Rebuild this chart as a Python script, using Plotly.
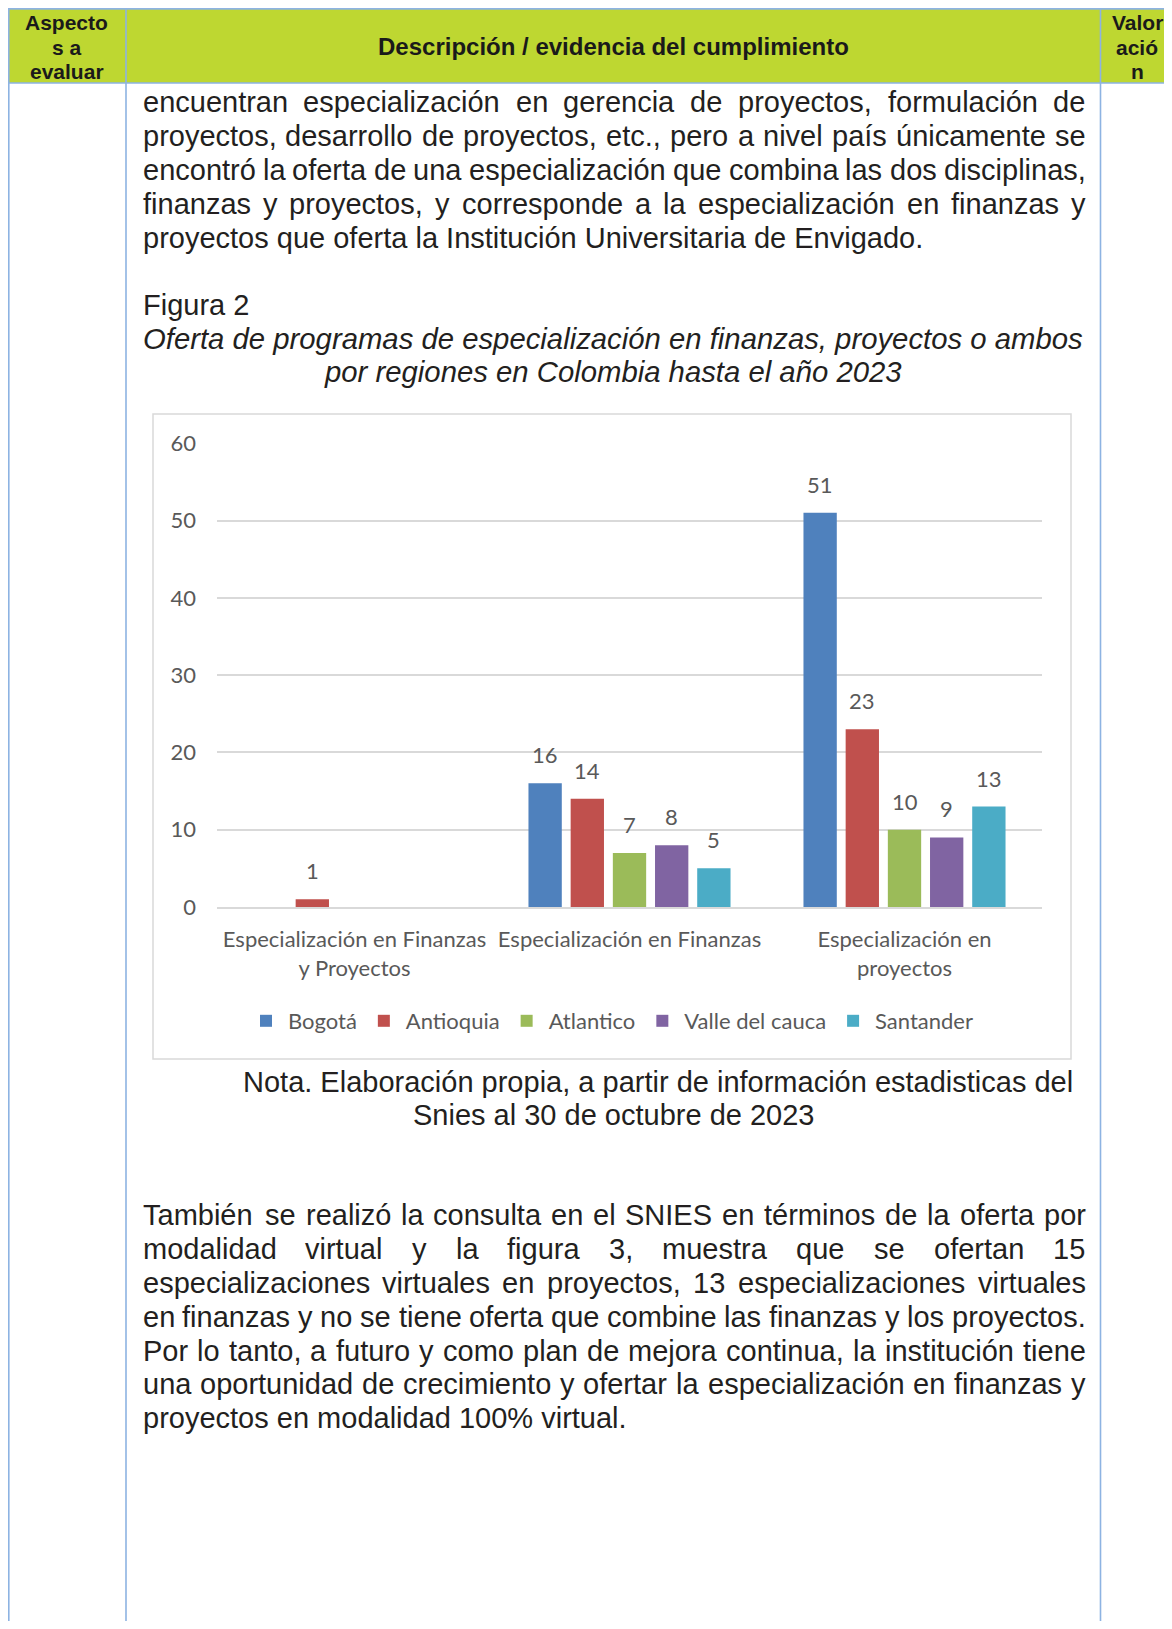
import plotly.graph_objects as go

# ---------------- data ----------------
categories = ["Especialización en Finanzas y Proyectos",
              "Especialización en Finanzas",
              "Especialización en proyectos"]
tick_labels = ["Especialización en Finanzas<br>y Proyectos",
               "Especialización en Finanzas",
               "Especialización en<br>proyectos"]
regions = ["Bogotá", "Antioquia", "Atlantico", "Valle del cauca", "Santander"]
bogota = [0, 16, 51]
antioquia = [1, 14, 23]
atlantico = [0, 7, 10]
valle = [0, 8, 9]
santander = [0, 5, 13]
y_ticks = [0, 10, 20, 30, 40, 50, 60]

header_left = ["Aspecto", "s a", "evaluar"]
header_mid = "Descripción / evidencia del cumplimiento"
header_right = ["Valor", "ació", "n"]
para1 = [
    "encuentran especialización en gerencia de proyectos, formulación de",
    "proyectos, desarrollo de proyectos, etc., pero a nivel país únicamente se",
    "encontró la oferta de una especialización que combina las dos disciplinas,",
    "finanzas y proyectos, y corresponde a la especialización en finanzas y",
    "proyectos que oferta la Institución Universitaria de Envigado.",
]
fig_label = "Figura 2"
fig_title = ["Oferta de programas de especialización en finanzas, proyectos o ambos",
             "por regiones en Colombia hasta el año 2023"]
nota = ["Nota. Elaboración propia, a partir de información estadisticas del",
        "Snies al 30 de octubre de 2023"]
para2 = [
    "También se realizó la consulta en el SNIES en términos de la oferta por",
    "modalidad virtual y la figura 3, muestra que se ofertan 15",
    "especializaciones virtuales en proyectos, 13 especializaciones virtuales",
    "en finanzas y no se tiene oferta que combine las finanzas y los proyectos.",
    "Por lo tanto, a futuro y como plan de mejora continua, la institución tiene",
    "una oportunidad de crecimiento y ofertar la especialización en finanzas y",
    "proyectos en modalidad 100% virtual.",
]

# ---------------- page geometry / styles ----------------
W, H = 1172, 1629            # page (window) size
OX, OY = 8, 8                # default page margin around the figure div
W_FIG, H_FIG = W - 2 * OX, H - 2 * OY   # keep the page free of scrollbars
DOC_FONT = "Liberation Sans, Arial, sans-serif"
CH_FONT = "Lato, Carlito, Calibri, sans-serif"
TXT = "#231F20"
HDR_TXT = "#1A1A1A"
GREY = "#595959"
BORDER = "#8DB3E2"
LIME = "#BED731"
GRID = "#D9D9D9"
bar_colors = ["#4F81BD", "#C0504D", "#9BBB59", "#8064A2", "#4BACC6"]
BODY = 29
CH = 22
BARGAP = 0.233
BARGROUPGAP = 0.21
X0, X1 = 217, 1042           # plot area (page px)
YB, YT = 907, 443.3

# Arial / Liberation Sans advance widths (1/1000 em)
AW = {" ": 278, ",": 278, ".": 278, "/": 278, "%": 889, "-": 333, ":": 278,
      "A": 667, "B": 667, "C": 722, "D": 722, "E": 667, "F": 611, "G": 778, "H": 722,
      "I": 278, "J": 500, "K": 667, "L": 556, "M": 833, "N": 722, "O": 778, "P": 667,
      "Q": 778, "R": 722, "S": 667, "T": 611, "U": 722, "V": 667, "W": 944, "X": 667,
      "Y": 667, "Z": 611,
      "a": 556, "b": 556, "c": 500, "d": 556, "e": 556, "f": 278, "g": 556, "h": 556,
      "i": 222, "j": 222, "k": 500, "l": 222, "m": 833, "n": 556, "o": 556, "p": 556,
      "q": 556, "r": 333, "s": 500, "t": 278, "u": 556, "v": 500, "w": 722, "x": 500,
      "y": 500, "z": 500, "á": 556, "é": 556, "í": 278, "ó": 556, "ú": 556, "ñ": 556}


def text_w(s, size):
    return sum(AW.get(ch, 556) for ch in s) * size / 1000.0


def px(x):
    return (x - OX) / W_FIG


def py(y):
    return 1 - (y - OY) / H_FIG


fig = go.Figure()

# ---------------- chart ----------------
series = [bogota, antioquia, atlantico, valle, santander]
for name, vals, col in zip(regions, series, bar_colors):
    fig.add_trace(go.Bar(x=categories, y=vals, name=name,
                         marker=dict(color=col, line=dict(width=0)),
                         hoverinfo="skip"))

slot = (X1 - X0) / len(categories) * (1 - BARGAP) / len(regions)
for i, vals in enumerate(series):
    for c, v in zip(categories, vals):
        if v > 0:
            fig.add_annotation(x=c, y=v, xref="x", yref="y", text=str(v),
                               showarrow=False, xanchor="center", yanchor="bottom",
                               xshift=(i - (len(regions) - 1) / 2) * slot, yshift=14,
                               borderpad=0,
                               font=dict(family=CH_FONT, size=CH, color=GREY))


def add_text(text, x, baseline, size, anchor="left", color=TXT):
    fig.add_annotation(text=text, x=px(x), y=py(baseline - 0.3465 * size),
                       xref="paper", yref="paper", xanchor=anchor, yanchor="middle",
                       showarrow=False, borderpad=0,
                       font=dict(family=DOC_FONT, size=size, color=color))


def add_justified(line, baseline, left, right, size):
    words = line.split(" ")
    widths = [text_w(w, size) for w in words]
    gap = (right - left - sum(widths)) / (len(words) - 1)
    x = left
    for w, ww in zip(words, widths):
        add_text(w, x, baseline, size)
        x += ww + gap


L, R = 141.5, 1084.5

# header
for t, b in zip(header_left, [29.3, 54.3, 78.3]):
    add_text("<b>%s</b>" % t, 66.5, b, 21, anchor="center", color=HDR_TXT)
for t, b in zip(header_right, [29.3, 54.3, 78.3]):
    add_text("<b>%s</b>" % t, 1137, b, 21, anchor="center", color=HDR_TXT)
add_text("<b>%s</b>" % header_mid, 613.5, 55.2, 24, anchor="center", color=HDR_TXT)

# paragraph 1
p1_base = [112.3, 146.2, 180.2, 214.1, 248.1]
for k, (line, b) in enumerate(zip(para1, p1_base)):
    if k < len(para1) - 1:
        add_justified(line, b, L, R, BODY)
    else:
        add_text(line, L, b, BODY)

add_text(fig_label, L, 315.5, BODY)
add_text("<i>%s</i>" % fig_title[0], 613.5, 348.5, BODY + 0.3, anchor="center")
add_text("<i>%s</i>" % fig_title[1], 613, 381.8, BODY + 0.3, anchor="center")

add_text(nota[0], 241.5, 1091.6, BODY)
add_text(nota[1], 613.5, 1124.8, BODY, anchor="center")

p2_base = [1225.5, 1259.3, 1293.1, 1326.9, 1360.7, 1394.5, 1428.3]
for k, (line, b) in enumerate(zip(para2, p2_base)):
    if k < len(para2) - 1:
        add_justified(line, b, L, R, BODY)
    else:
        add_text(line, L, b, BODY)

# ---------------- shapes: table + chart frame ----------------
RIGHT_EDGE = OX + W_FIG
BOTTOM_EDGE = OY + H_FIG
shapes = [
    dict(type="rect", xref="paper", yref="paper", x0=px(8), x1=px(RIGHT_EDGE), y0=py(83), y1=py(8.5),
         fillcolor=LIME, line=dict(width=0), layer="below"),
    dict(type="rect", xref="paper", yref="paper", x0=px(153), x1=px(1071), y0=py(1059), y1=py(414),
         fillcolor="rgba(0,0,0,0)", line=dict(color=GRID, width=1.5), layer="below"),
]
for yy in [8.9, 83]:
    shapes.append(dict(type="line", xref="paper", yref="paper", x0=px(8), x1=px(RIGHT_EDGE),
                       y0=py(yy), y1=py(yy), line=dict(color=BORDER, width=1.6)))
for xx in [8.8, 126, 1100.5]:
    shapes.append(dict(type="line", xref="paper", yref="paper", x0=px(xx), x1=px(xx),
                       y0=py(8.5), y1=py(BOTTOM_EDGE), line=dict(color=BORDER, width=1.6)))

fig.update_layout(
    width=W_FIG, height=H_FIG, autosize=False,
    margin=dict(l=0, r=0, t=0, b=0, pad=0, autoexpand=False),
    paper_bgcolor="white", plot_bgcolor="white",
    barmode="group", bargap=BARGAP, bargroupgap=BARGROUPGAP,
    shapes=shapes,
    showlegend=True,
    legend=dict(orientation="h", x=px(244), y=py(1021), xanchor="left", yanchor="middle",
                font=dict(family=CH_FONT, size=CH, color=GREY), bgcolor="rgba(0,0,0,0)",
                itemwidth=34, traceorder="normal"),
    xaxis=dict(domain=[px(X0), px(X1)], tickmode="array", tickvals=categories,
               ticktext=tick_labels, showgrid=False, showline=True, linecolor=GRID,
               linewidth=1.5, ticks="", ticklabelstandoff=12, fixedrange=True,
               automargin=False,
               tickfont=dict(family=CH_FONT, size=CH, color=GREY)),
    yaxis=dict(domain=[py(YB), py(YT)], range=[0, 60], tickmode="array", tickvals=y_ticks,
               showgrid=True, gridcolor=GRID, gridwidth=1.5, zeroline=False, showline=False,
               ticks="", ticklabelstandoff=20, fixedrange=True, automargin=False,
               tickfont=dict(family=CH_FONT, size=CH, color=GREY)),
)

fig.write_html("out.html")
